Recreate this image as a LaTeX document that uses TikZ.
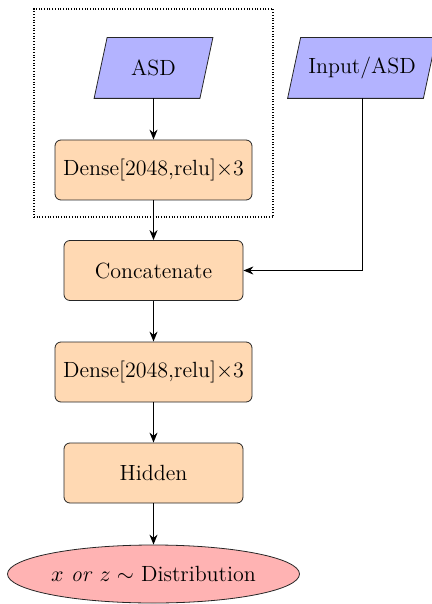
\documentclass[tikz,border=0pt]{standalone}
\usetikzlibrary{arrows.meta,shapes.geometric}
\definecolor{inblue}{RGB}{179,179,255}
\definecolor{boxorange}{RGB}{255,217,179}
\definecolor{outred}{RGB}{255,179,179}
\tikzset{
  txt/.style={font=\fontsize{11}{13}\selectfont},
  layer/.style={txt, draw=black!85, line width=0.4pt, fill=boxorange, rounded corners=3pt,
                minimum height=30pt, inner sep=0pt},
  para/.style={draw=black!85, line width=0.4pt, fill=inblue},
  ptext/.style={txt, inner sep=0pt, minimum height=30pt},
  flow/.style={-{Stealth[length=5pt,width=4pt]}, line width=0.6pt},
  group/.style={draw, line width=0.6pt, dash pattern=on 0.5pt off 0.85pt, inner sep=0pt}
}
\begin{document}
\begin{tikzpicture}[x=0.5pt,y=-0.5pt]
  \useasboundingbox (0,0) rectangle (432,604);
  \clip (0,0) rectangle (432,604);

  % encoder branch enclosed by a dotted frame
  \node[group, minimum width=119.5pt, minimum height=104pt] (grp) at (153.5,113) {};

  % inputs (parallelograms)
  \node[ptext, minimum width=52.5pt] (asd) at (153.5,68) {};
  \draw[para] ([xshift=-3.25pt]asd.south west) -- ([xshift=-3.25pt]asd.south east)
              -- ([xshift=3.25pt]asd.north east) -- ([xshift=3.25pt]asd.north west) -- cycle;
  \node[txt] at (asd.center) {ASD};

  \node[ptext, minimum width=67.5pt] (inp) at (362,68) {};
  \draw[para] ([xshift=-3.25pt]inp.south west) -- ([xshift=-3.25pt]inp.south east)
              -- ([xshift=3.25pt]inp.north east) -- ([xshift=3.25pt]inp.north west) -- cycle;
  \node[txt] at (inp.center) {Input/ASD};

  % layers
  \node[layer, minimum width=98.5pt] (d1) at (153.5,170) {Dense[2048,relu]$\times$3};
  \node[layer, minimum width=89.5pt] (cat) at (153.5,270.5) {Concatenate};
  \node[layer, minimum width=98.5pt] (d2) at (153.5,372) {Dense[2048,relu]$\times$3};
  \node[layer, minimum width=89.5pt] (hid) at (153.5,473) {Hidden};

  % output distribution
  \node[ellipse, txt, draw=black!85, line width=0.4pt, fill=outred,
        minimum width=146pt, minimum height=29pt, inner sep=0pt] (out) at (153.5,574)
        {$x$ \emph{or} $z \sim$ Distribution};

  % connections
  \draw[flow] (asd.south) -- (d1.north);
  \draw[flow] (d1.south) -- (cat.north);
  \draw[flow] (cat.south) -- (d2.north);
  \draw[flow] (d2.south) -- (hid.north);
  \draw[flow] (hid.south) -- (out.north);
  \draw[flow, line width=0.5pt] (inp.south) |- (cat.east);
\end{tikzpicture}
\end{document}
